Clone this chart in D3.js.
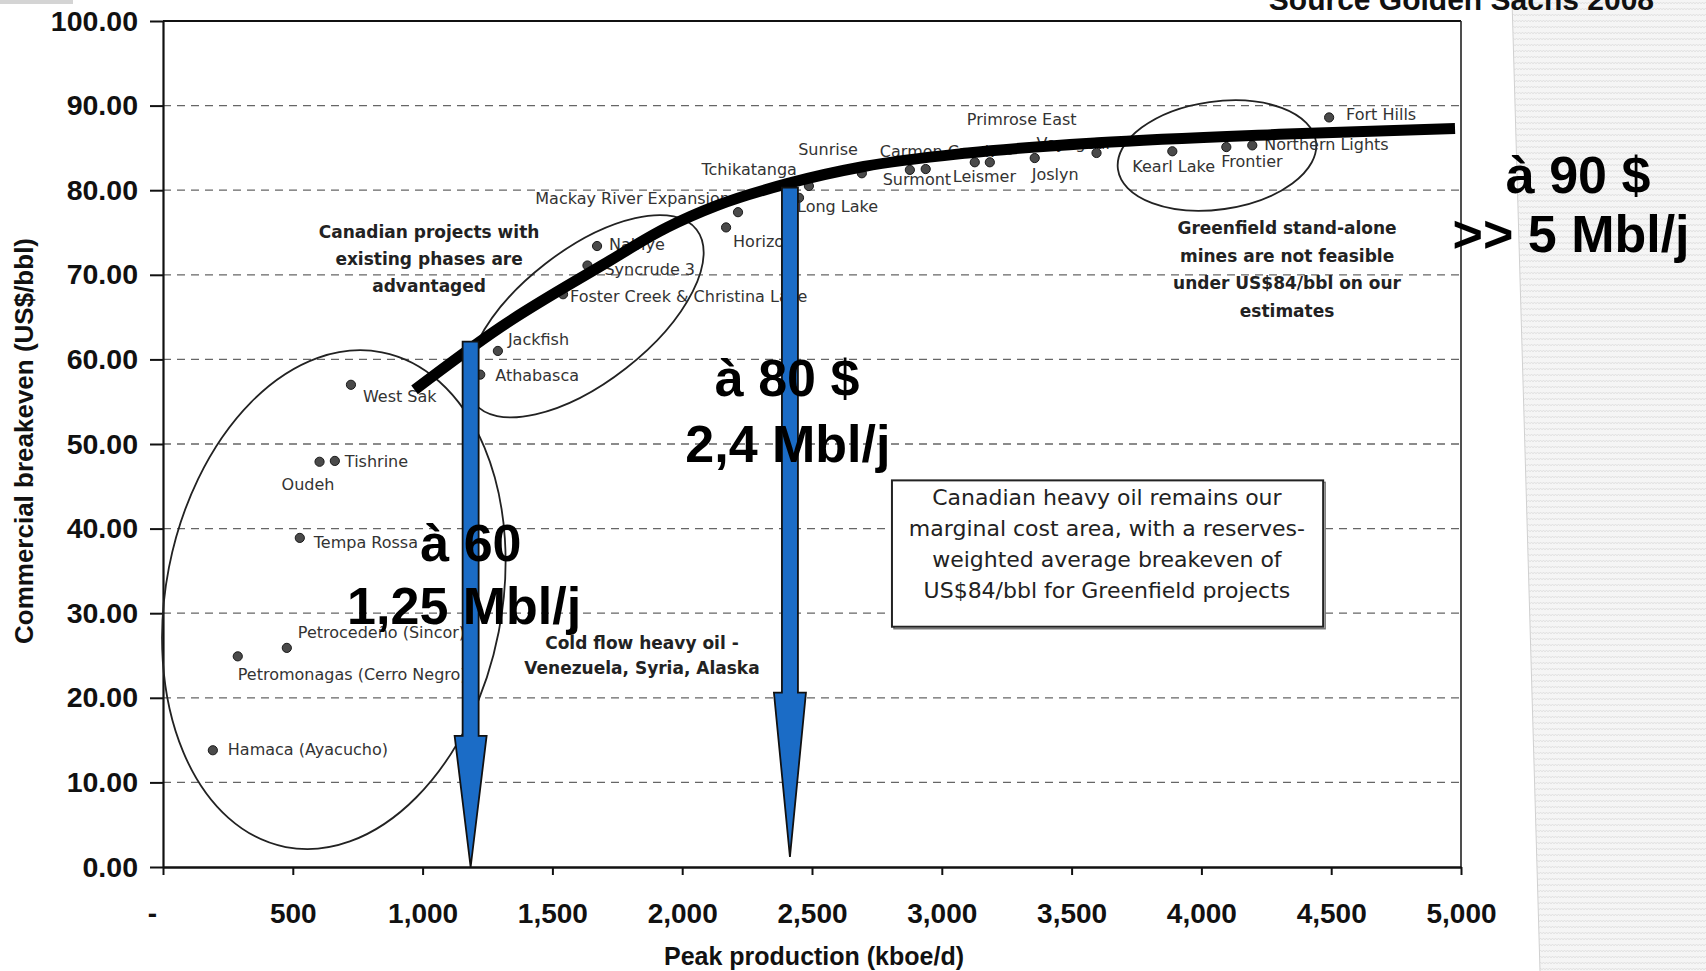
<!DOCTYPE html>
<html>
<head>
<meta charset="utf-8">
<script src="https://cdn.jsdelivr.net/npm/d3@7"></script>
<style>
body { margin: 0; background: #fff; }
text { font-family: "Liberation Sans", Arial, sans-serif; }
</style>
</head>
<body>
<div class="container"></div>
<script>
const wd = 1706
const ht = 971

// projects on the cost curve (kboe/d, US$/bbl)
const projects = ["Hamaca (Ayacucho)", "Petromonagas (Cerro Negro)", "Petrocedeño (Sincor)", "Tempa Rossa",
  "Oudeh", "Tishrine", "West Sak", "Athabasca", "Jackfish", "Foster Creek & Christina Lake", "Syncrude 3",
  "Nabiye", "Horizon", "Mackay River Expansion", "Long Lake", "Tchikatanga", "Sunrise", "Carmon Creek",
  "Surmont", "Leismer", "Corner", "Joslyn", "Primrose East", "Voyageur", "Kearl Lake", "Frontier",
  "Northern Lights", "Fort Hills"]
const peakProduction = [192, 288, 477, 527, 603, 662, 724, 1222, 1290, 1541, 1635,
  1672, 2169, 2215, 2450, 2488, 2692, 2877, 2938, 3127, 3185, 3358, 3262, 3596, 3888, 4096, 4196, 4492]
const breakeven = [13.8, 24.9, 25.9, 38.9, 47.9, 48.0, 57.0, 58.2, 61.0, 67.7, 71.1,
  73.4, 75.6, 77.4, 79.1, 80.5, 82.0, 82.4, 82.5, 83.3, 83.3, 83.8, 84.8, 84.4, 84.6, 85.1, 85.3, 88.6]

// hand drawn supply curve
const curveX = [969, 1300, 1685, 1942, 2135, 2408, 2700, 3100, 3600, 4300, 4977]
const curveY = [56.4, 63.8, 71.0, 75.6, 78.2, 80.8, 82.8, 84.4, 85.6, 86.6, 87.3]

const xTicks = [0, 500, 1000, 1500, 2000, 2500, 3000, 3500, 4000, 4500, 5000]
const yTicks = [0, 10, 20, 30, 40, 50, 60, 70, 80, 90, 100]

// blue arrows: x, top, head start, tip
const arrowX = [1185, 2415]
const arrowTop = [62.1, 80.3]
const arrowHead = [15.5, 20.6]
const arrowTip = [0, 1.2]

// label placement (dx, dy, anchor) - kept apart from the data
const labelPos = {
  "Hamaca (Ayacucho)": [15, 5, "start"],
  "Petromonagas (Cerro Negro)": [0, 24, "start"],
  "Petrocedeño (Sincor)": [11, -10, "start"],
  "Tempa Rossa": [14, 10, "start"],
  "Oudeh": [-38, 28, "start"],
  "Tishrine": [10, 6, "start"],
  "West Sak": [12, 17, "start"],
  "Athabasca": [15, 6, "start"],
  "Jackfish": [10, -6, "start"],
  "Foster Creek & Christina Lake": [7, 8, "start"],
  "Syncrude 3": [17, 10, "start"],
  "Nabiye": [12, 4, "start"],
  "Horizon": [7, 20, "start"],
  "Mackay River Expansion": [-8, -8, "end"],
  "Long Lake": [-2, 14, "start"],
  "Tchikatanga": [-12, -11, "end"],
  "Sunrise": [-4, -18, "end"],
  "Carmon Creek": [-30, -13, "start"],
  "Surmont": [-43, 16, "start"],
  "Leismer": [-22, 20, "start"],
  "Joslyn": [-3, 22, "start"],
  "Primrose East": [-43, -25, "start"],
  "Voyageur": [-60, -4, "start"],
  "Kearl Lake": [-40, 21, "start"],
  "Frontier": [-5, 20, "start"],
  "Northern Lights": [12, 5, "start"],
  "Fort Hills": [17, 3, "start"]
}

const svgC = d3.select(".container")
.append("svg")
.attr("width", wd)
.attr("height", ht)

const x = d3.scaleLinear().domain([0, 5000]).range([163, 1461])
const y = d3.scaleLinear().domain([0, 100]).range([867, 21])

// textured slide background on the right
const defs = svgC.append("defs")
const pat = defs.append("pattern").attr("id", "tex").attr("width", 6).attr("height", 6).attr("patternUnits", "userSpaceOnUse")
pat.append("rect").attr("width", 6).attr("height", 6).attr("fill", "#f5f5f5")
pat.append("path").attr("d", "M0,4 L1.5,2 L3,4 L4.5,2 L6,4").attr("fill", "none").attr("stroke", "#dedede").attr("stroke-width", 0.8)

svgC.append("polygon")
.attr("points", "1512,0 1706,0 1706,971 1540,971")
.attr("fill", "url(#tex)")
svgC.append("line").attr("x1", 1512).attr("y1", 0).attr("x2", 1540).attr("y2", ht)
.attr("stroke", "#d0d0d0").attr("stroke-width", 1)
svgC.append("rect").attr("x", 0).attr("y", 0).attr("width", 73).attr("height", 4).attr("fill", "#d4d4d4")

// gridlines
svgC.selectAll(".grid")
.data(yTicks.filter(d => d > 0 && d < 100))
.enter()
.append("line")
.attr("x1", x(0)).attr("x2", x(5000))
.attr("y1", d => y(d)).attr("y2", d => y(d))
.attr("stroke", "#666")
.attr("stroke-width", 1.3)
.attr("stroke-dasharray", "8 6")

// frame
svgC.append("line").attr("x1", x(0)).attr("x2", x(5000)).attr("y1", y(100)).attr("y2", y(100))
.attr("stroke", "#111").attr("stroke-width", 2)
svgC.append("line").attr("x1", x(5000)).attr("x2", x(5000)).attr("y1", y(100)).attr("y2", y(0))
.attr("stroke", "#222").attr("stroke-width", 1.6)

// axes
const yAxis = svgC.append("g")
.attr("transform", `translate(${x(0)},0)`)
.call(d3.axisLeft(y).tickValues(yTicks).tickFormat(d3.format(".2f")).tickSize(13).tickPadding(12).tickSizeOuter(0))
yAxis.selectAll("text").attr("font-size", 28.5).attr("font-weight", "bold").attr("fill", "#111")
  .style("font-family", "'Liberation Sans', Arial, sans-serif")
yAxis.selectAll("line").attr("stroke", "#111").attr("stroke-width", 2)
yAxis.select(".domain").attr("stroke", "#111").attr("stroke-width", 2.2)

const xAxis = svgC.append("g")
.attr("transform", `translate(0,${y(0)})`)
.call(d3.axisBottom(x).tickValues(xTicks).tickFormat(d => d == 0 ? "-" : d3.format(",")(d)).tickSize(8).tickPadding(28).tickSizeOuter(0))
xAxis.selectAll("text").attr("font-size", 28).attr("font-weight", "bold").attr("fill", "#111")
  .style("font-family", "'Liberation Sans', Arial, sans-serif")
xAxis.selectAll("text").filter(d => d == 0).attr("dx", -11)
xAxis.selectAll("line").attr("stroke", "#111").attr("stroke-width", 2)
xAxis.select(".domain").attr("stroke", "#111").attr("stroke-width", 2.6)

svgC.append("text")
.attr("x", 814).attr("y", 965)
.attr("text-anchor", "middle")
.attr("font-size", 25).attr("font-weight", "bold").attr("fill", "#111")
.text("Peak production (kboe/d)")

svgC.append("text")
.attr("transform", "translate(33,441) rotate(-90)")
.attr("text-anchor", "middle")
.attr("font-size", 26).attr("font-weight", "bold").attr("fill", "#111")
.text("Commercial breakeven (US$/bbl)")

svgC.append("text")
.attr("x", 1654).attr("y", 10)
.attr("text-anchor", "end")
.attr("font-size", 30).attr("font-weight", "bold").attr("fill", "#111")
.text("Source Golden Sachs 2008")

// ellipses round the groups: centre in data, radii in px, tilt
const rings = [
  {cx: 658, cy: 31.6, rx: 168, ry: 252, rot: 11},
  {cx: 1627, cy: 65.1, rx: 141, ry: 66, rot: -38},
  {cx: 4060, cy: 84.1, rx: 100, ry: 54, rot: -8}
]
svgC.selectAll(".ring")
.data(rings)
.enter()
.append("ellipse")
.attr("transform", d => `translate(${x(d.cx)},${y(d.cy)}) rotate(${d.rot})`)
.attr("rx", d => d.rx).attr("ry", d => d.ry)
.attr("fill", "none").attr("stroke", "#222").attr("stroke-width", 1.8)

// box
const boxX0 = 2808, boxX1 = 4469, boxY0 = 45.7, boxY1 = 28.4
svgC.append("rect")
.attr("x", x(boxX0) + 2).attr("y", y(boxY0) + 2)
.attr("width", x(boxX1) - x(boxX0)).attr("height", y(boxY1) - y(boxY0))
.attr("fill", "none").attr("stroke", "#777").attr("stroke-width", 1.5)
svgC.append("rect")
.attr("x", x(boxX0)).attr("y", y(boxY0))
.attr("width", x(boxX1) - x(boxX0)).attr("height", y(boxY1) - y(boxY0))
.attr("fill", "#fff").attr("stroke", "#222").attr("stroke-width", 2)

const boxLines = ["Canadian heavy oil remains our", "marginal cost area, with a reserves-",
  "weighted average breakeven of", "US$84/bbl for Greenfield projects"]
svgC.selectAll(".boxTxt")
.data(boxLines)
.enter()
.append("text")
.attr("x", x(3636))
.attr("y", (d, i) => y(42.8) + i * 31)
.attr("text-anchor", "middle")
.attr("font-size", 22).attr("fill", "#222")
.style("font-family", "'DejaVu Sans', sans-serif")
.text(d => d)

// bold comments
const notes = [
  {x: 1025, y: 74.3, gap: 27, lines: ["Canadian projects with", "existing phases are", "advantaged"]},
  {x: 1845, y: 25.8, gap: 25, lines: ["Cold flow heavy oil -", "Venezuela, Syria, Alaska"]},
  {x: 4330, y: 74.8, gap: 27.5, lines: ["Greenfield stand-alone", "mines are not feasible", "under US$84/bbl on our", "estimates"]}
]
notes.forEach(n => {
  svgC.append("g").selectAll("text")
  .data(n.lines)
  .enter()
  .append("text")
  .attr("x", x(n.x))
  .attr("y", (d, i) => y(n.y) + i * n.gap)
  .attr("text-anchor", "middle")
  .attr("font-size", 17).attr("font-weight", "bold").attr("fill", "#222")
  .style("font-family", "'DejaVu Sans', sans-serif")
  .text(d => d)
})

// project points and labels
const pts = projects.map((p, i) => ({name: p, px: peakProduction[i], be: breakeven[i]}))

svgC.selectAll(".pt")
.data(pts)
.enter()
.append("circle")
.attr("cx", d => x(d.px)).attr("cy", d => y(d.be))
.attr("r", 4.6)
.attr("fill", "#4a4a4a").attr("stroke", "#1a1a1a").attr("stroke-width", 1)

svgC.selectAll(".lbl")
.data(pts.filter(d => labelPos[d.name]))
.enter()
.append("text")
.attr("x", d => x(d.px) + labelPos[d.name][0])
.attr("y", d => y(d.be) + labelPos[d.name][1])
.attr("text-anchor", d => labelPos[d.name][2])
.attr("font-size", 16).attr("fill", "#333")
.style("font-family", "'DejaVu Sans', sans-serif")
.text(d => d.name)

// supply curve
const lineFunc = d3.line()
.x(d => x(d[0]))
.y(d => y(d[1]))
.curve(d3.curveMonotoneX)

svgC.append("path")
.attr("d", lineFunc(curveX.map((v, i) => [v, curveY[i]])))
.attr("fill", "none")
.attr("stroke", "#000")
.attr("stroke-width", 11)

// blue arrows
const shaftW = 8, headW = 16
arrowX.forEach((ax, i) => {
  let cx = x(ax)
  let p = [
    [cx - shaftW, y(arrowTop[i])], [cx + shaftW, y(arrowTop[i])],
    [cx + shaftW, y(arrowHead[i])], [cx + headW, y(arrowHead[i])],
    [cx, y(arrowTip[i])],
    [cx - headW, y(arrowHead[i])], [cx - shaftW, y(arrowHead[i])]
  ]
  svgC.append("polygon")
  .attr("points", p.map(d => d.join(",")).join(" "))
  .attr("fill", "#1b6cc6")
  .attr("stroke", "#111")
  .attr("stroke-width", 1.8)
  .attr("stroke-linejoin", "miter")
})

// big overlay texts
const bigText = [
  {t: "à 60", x: 1186, y: 36.2},
  {t: "1,25 Mbl/j", x: 1160, y: 28.7},
  {t: "à 80 $", x: 2404, y: 55.7},
  {t: "2,4 Mbl/j", x: 2407, y: 47.9},
  {t: "à 90 $", x: 5451, y: 79.7},
  {t: ">> 5 Mbl/j", x: 5424, y: 72.7}
]
svgC.selectAll(".big")
.data(bigText)
.enter()
.append("text")
.attr("x", d => x(d.x)).attr("y", d => y(d.y))
.attr("text-anchor", "middle")
.attr("font-size", 52).attr("font-weight", "bold").attr("fill", "#000")
.text(d => d.t)
</script>
</body>
</html>
